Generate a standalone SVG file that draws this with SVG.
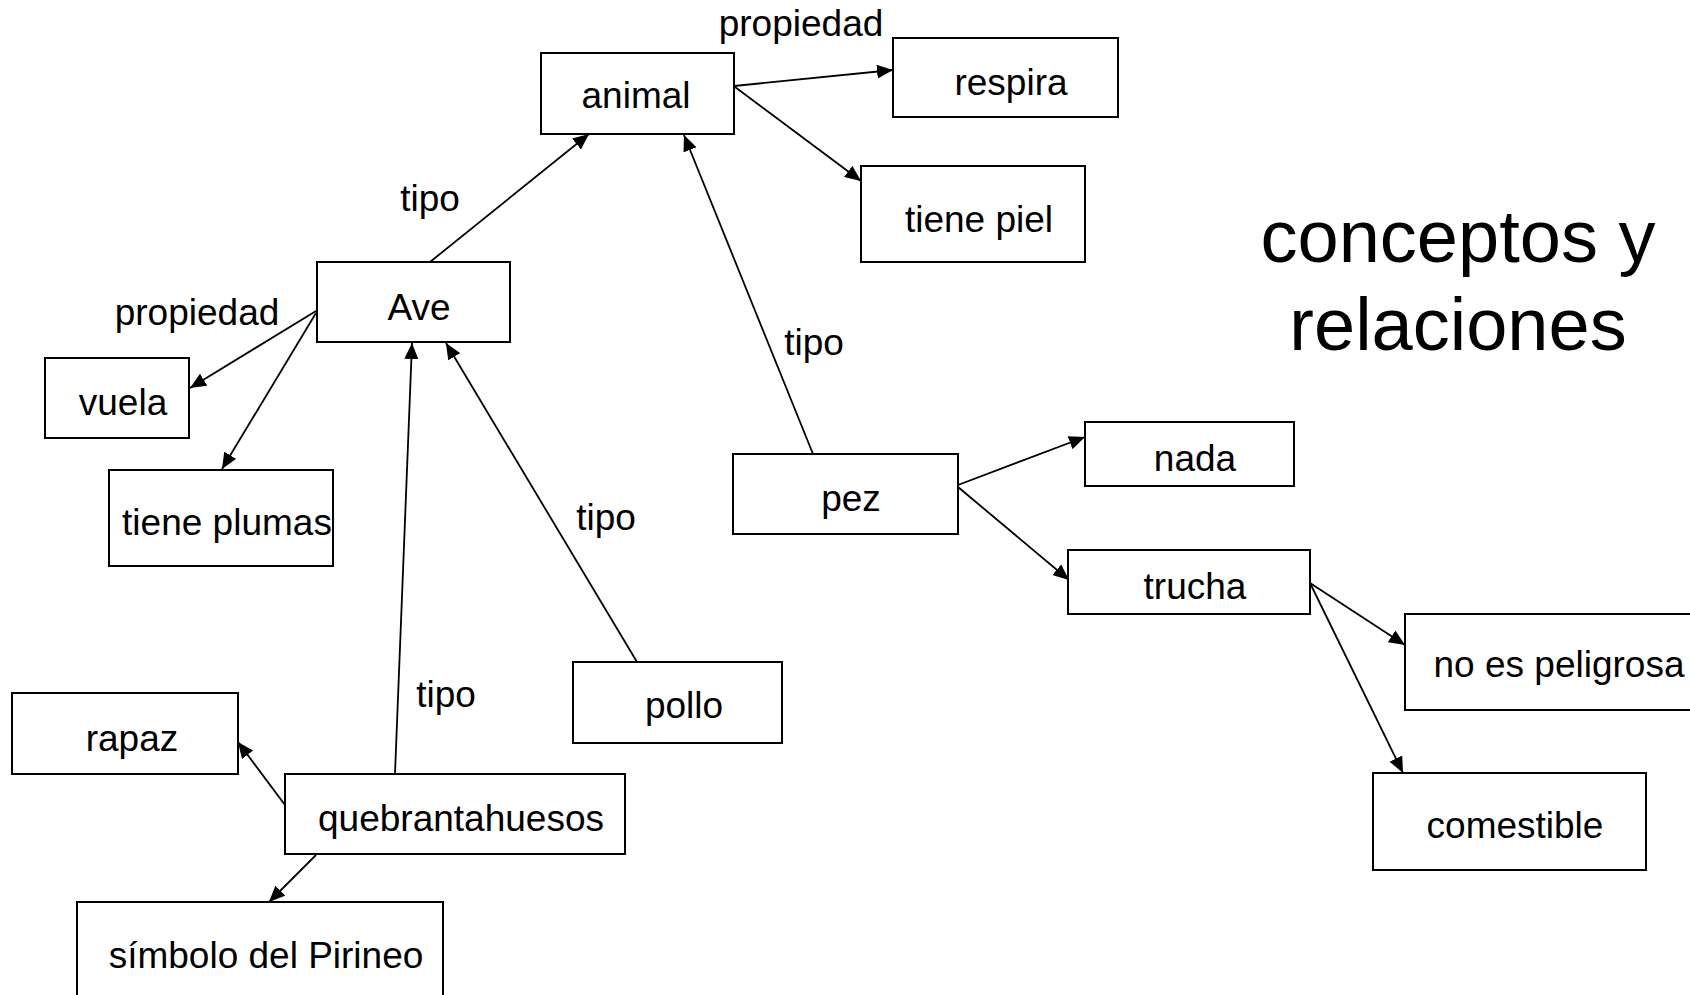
<svg xmlns="http://www.w3.org/2000/svg" width="1690" height="995" viewBox="0 0 1690 995">
  <style>
    .box { fill: #ffffff; stroke: #000000; stroke-width: 2; }
    .lbl { font-family: "Liberation Sans", Arial, sans-serif; font-size: 37px; fill: #000000; text-anchor: middle; }
    .title { font-family: "Liberation Sans", Arial, sans-serif; font-size: 74px; fill: #000000; text-anchor: middle; }
    .edge { stroke: #000000; stroke-width: 1.8; fill: none; marker-end: url(#arrow); }
    .plain { stroke: #000000; stroke-width: 1.8; fill: none; }
  </style>
  <defs>
    <marker id="arrow" markerUnits="userSpaceOnUse" markerWidth="16" markerHeight="14" refX="16" refY="7" orient="auto">
      <path d="M0,0 L16,7 L0,14 z" fill="#000000"/>
    </marker>
  </defs>
  <rect x="0" y="0" width="1690" height="995" fill="#ffffff"/>

  <!-- connectors -->
  <g id="connectors">
    <line class="edge" x1="430" y1="262" x2="589" y2="134"/>
    <line class="edge" x1="734" y1="86" x2="893" y2="70"/>
    <line class="edge" x1="735" y1="87" x2="861" y2="181"/>
    <line class="edge" x1="813" y1="454" x2="684" y2="135"/>
    <line class="edge" x1="316" y1="311" x2="190" y2="388"/>
    <line class="edge" x1="316" y1="313" x2="222" y2="469"/>
    <line class="edge" x1="395" y1="774" x2="412" y2="343"/>
    <line class="edge" x1="637" y1="662" x2="446" y2="343"/>
    <line class="edge" x1="958" y1="485" x2="1085" y2="437"/>
    <line class="edge" x1="958" y1="487" x2="1069" y2="580"/>
    <line class="edge" x1="1310" y1="583" x2="1405" y2="645"/>
    <line class="edge" x1="1310" y1="583" x2="1403" y2="773"/>
    <line class="edge" x1="285" y1="805" x2="238" y2="742"/>
    <line class="edge" x1="316" y1="855" x2="269" y2="902"/>
  </g>

  <!-- relation labels -->
  <g id="labels">
    <text class="lbl" x="801" y="36">propiedad</text>
    <text class="lbl" x="197" y="325">propiedad</text>
    <text class="lbl" x="430" y="211">tipo</text>
    <text class="lbl" x="814" y="355">tipo</text>
    <text class="lbl" x="606" y="530">tipo</text>
    <text class="lbl" x="446" y="707">tipo</text>
  </g>

  <!-- concept nodes -->
  <g id="animal"><rect class="box" x="541" y="53" width="193" height="81"/><text class="lbl" x="636" y="108">animal</text></g>
  <g id="respira"><rect class="box" x="893" y="38" width="225" height="79"/><text class="lbl" x="1011" y="95">respira</text></g>
  <g id="tiene-piel"><rect class="box" x="861" y="166" width="224" height="96"/><text class="lbl" x="979" y="232">tiene piel</text></g>
  <g id="ave"><rect class="box" x="317" y="262" width="193" height="80"/><text class="lbl" x="419" y="320">Ave</text></g>
  <g id="vuela"><rect class="box" x="45" y="358" width="144" height="80"/><text class="lbl" x="123" y="415">vuela</text></g>
  <g id="tiene-plumas"><rect class="box" x="109" y="470" width="224" height="96"/><text class="lbl" x="227" y="535">tiene plumas</text></g>
  <g id="pez"><rect class="box" x="733" y="454" width="225" height="80"/><text class="lbl" x="851" y="511">pez</text></g>
  <g id="nada"><rect class="box" x="1085" y="422" width="209" height="64"/><text class="lbl" x="1195" y="471">nada</text></g>
  <g id="trucha"><rect class="box" x="1068" y="550" width="242" height="64"/><text class="lbl" x="1195" y="599">trucha</text></g>
  <g id="no-es-peligrosa"><rect class="box" x="1405" y="614" width="300" height="96"/><text class="lbl" x="1559" y="677">no es peligrosa</text></g>
  <g id="comestible"><rect class="box" x="1373" y="773" width="273" height="97"/><text class="lbl" x="1515" y="838">comestible</text></g>
  <g id="pollo"><rect class="box" x="573" y="662" width="209" height="81"/><text class="lbl" x="684" y="718">pollo</text></g>
  <g id="rapaz"><rect class="box" x="12" y="693" width="226" height="81"/><text class="lbl" x="132" y="751">rapaz</text></g>
  <g id="quebrantahuesos"><rect class="box" x="285" y="774" width="340" height="80"/><text class="lbl" x="461" y="831">quebrantahuesos</text></g>
  <g id="simbolo-del-pirineo"><rect class="box" x="77" y="902" width="366" height="110"/><text class="lbl" x="266" y="968">símbolo del Pirineo</text></g>

  <!-- heading -->
  <g id="title">
    <text class="title" x="1458" y="262">conceptos y</text>
    <text class="title" x="1458" y="350">relaciones</text>
  </g>
</svg>
